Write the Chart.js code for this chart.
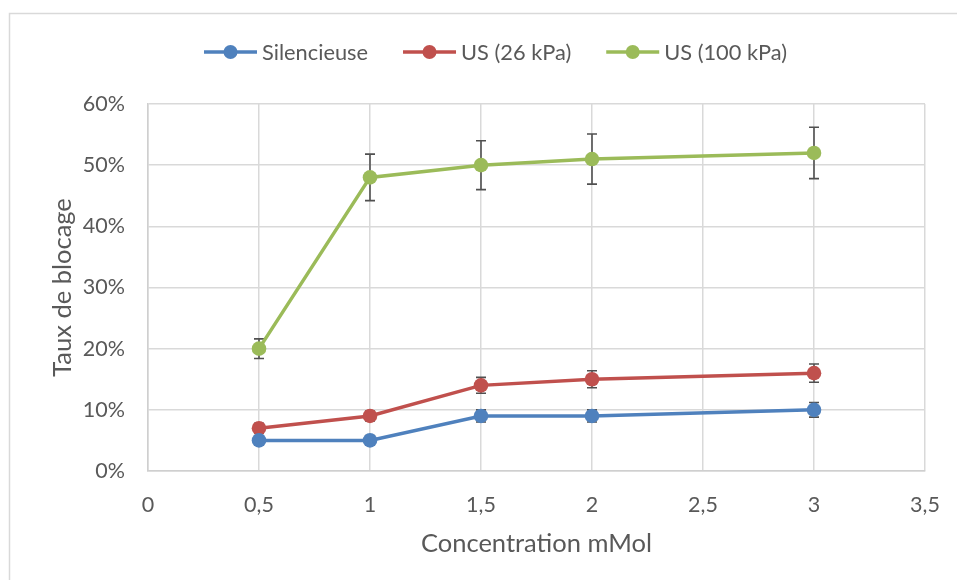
<!DOCTYPE html>
<html>
<head>
<meta charset="utf-8">
<script src="https://cdn.jsdelivr.net/npm/chart.js@4"></script>
<style>
  html, body { margin: 0; padding: 0; background: #fff; }
  #wrap { position: relative; width: 957px; height: 580px; }
</style>
</head>
<body>
<div id="wrap"><canvas id="chart" width="957" height="580"></canvas></div>
<script>
// Données
const concentrations = [0.5, 1, 1.5, 2, 3];
const silencieuse = [0.05, 0.05, 0.09, 0.09, 0.10];
const us26 = [0.07, 0.09, 0.14, 0.15, 0.16];
const us100 = [0.20, 0.48, 0.50, 0.51, 0.52];
const errSilencieuse = [0.008, 0.008, 0.010, 0.010, 0.012];
const errUs26 = [0.008, 0.008, 0.013, 0.014, 0.015];
const errUs100 = [0.016, 0.038, 0.040, 0.041, 0.042];
const seriesNames = ['Silencieuse', 'US (26 kPa)', 'US (100 kPa)'];

const FONT = 'Lato, Calibri, sans-serif';
const TEXT = '#595959';
const GRID = '#d9d9d9';

function pts(ys) {
    return concentrations.map((x, i) => ({ x: x, y: ys[i] }));
}

function serie(label, ys, errs, color) {
    return {
        label: label,
        data: pts(ys),
        errors: errs,
        borderColor: color,
        backgroundColor: color,
        borderWidth: 3.5,
        pointRadius: 7.3,
        pointHoverRadius: 7.3,
        pointBorderWidth: 0,
        tension: 0
    };
}

// cadre du graphique (bord gris clair)
const cadre = {
    id: 'cadre',
    beforeDraw(chart) {
        const ctx = chart.ctx;
        ctx.save();
        ctx.strokeStyle = GRID;
        ctx.lineWidth = 1.5;
        ctx.strokeRect(9.5, 13.5, 2000, 2000);
        ctx.restore();
    }
};

// barres d'erreur
const barresErreur = {
    id: 'barresErreur',
    beforeDatasetsDraw(chart) {
        const ctx = chart.ctx;
        const xs = chart.scales.x, ys = chart.scales.y;
        ctx.save();
        ctx.strokeStyle = '#505050';
        ctx.lineWidth = 1.6;
        chart.data.datasets.forEach(ds => {
            ds.data.forEach((p, i) => {
                const e = ds.errors[i];
                const px = xs.getPixelForValue(p.x);
                const top = ys.getPixelForValue(p.y + e);
                const bot = ys.getPixelForValue(p.y - e);
                ctx.beginPath();
                ctx.moveTo(px, top); ctx.lineTo(px, bot);
                ctx.moveTo(px - 5, top); ctx.lineTo(px + 5, top);
                ctx.moveTo(px - 5, bot); ctx.lineTo(px + 5, bot);
                ctx.stroke();
            });
        });
        ctx.restore();
    }
};

// légende façon Excel : trait + rond
const legende = {
    id: 'legende',
    afterDraw(chart) {
        const ctx = chart.ctx;
        ctx.save();
        ctx.font = '21.8px ' + FONT;
        ctx.textBaseline = 'middle';
        let x = 204;
        const y = 52;
        chart.data.datasets.forEach(ds => {
            ctx.strokeStyle = ds.borderColor;
            ctx.lineWidth = 3.5;
            ctx.beginPath();
            ctx.moveTo(x, y); ctx.lineTo(x + 53, y);
            ctx.stroke();
            ctx.fillStyle = ds.borderColor;
            ctx.beginPath();
            ctx.arc(x + 26.5, y, 7, 0, Math.PI * 2);
            ctx.fill();
            ctx.fillStyle = TEXT;
            ctx.fillText(ds.label, x + 58, y + 1);
            x += 58 + ctx.measureText(ds.label).width + 35;
        });
        ctx.restore();
    }
};

new Chart(document.getElementById('chart'), {
    type: 'line',
    data: {
        datasets: [
            serie(seriesNames[0], silencieuse, errSilencieuse, '#4f81bd'),
            serie(seriesNames[1], us26, errUs26, '#c0504d'),
            serie(seriesNames[2], us100, errUs100, '#9bbb59')
        ]
    },
    options: {
        responsive: false,
        animation: false,
        layout: { padding: { left: 0, top: 104, right: 32, bottom: 0 } },
        plugins: {
            legend: { display: false },
            tooltip: { enabled: false }
        },
        scales: {
            x: {
                type: 'linear',
                min: 0, max: 3.5,
                afterFit: s => { s.height = 109; s.paddingRight = 0; },
                ticks: {
                    stepSize: 0.5,
                    padding: 21,
                    color: TEXT,
                    font: { family: FONT, size: 21.5 },
                    callback: v => String(v).replace('.', ',')
                },
                grid: { color: GRID, lineWidth: 1.5, drawTicks: false },
                border: { color: '#cfcfcf', width: 1.5 },
                title: {
                    display: true,
                    text: 'Concentration mMol',
                    color: TEXT,
                    font: { family: FONT, size: 25.5 },
                    padding: { top: 0, bottom: 21 }
                }
            },
            y: {
                min: 0, max: 0.6,
                afterFit: s => { s.width = 148; },
                ticks: {
                    stepSize: 0.1,
                    padding: 23,
                    color: TEXT,
                    font: { family: FONT, size: 21.5 },
                    callback: v => Math.round(v * 100) + '%'
                },
                grid: { color: GRID, lineWidth: 1.5, drawTicks: false },
                border: { color: '#cfcfcf', width: 1.5 },
                title: {
                    display: true,
                    text: 'Taux de blocage',
                    color: TEXT,
                    font: { family: FONT, size: 25.5 },
                    padding: { top: 47, bottom: 0 }
                }
            }
        }
    },
    plugins: [cadre, barresErreur, legende]
});
</script>
</body>
</html>
